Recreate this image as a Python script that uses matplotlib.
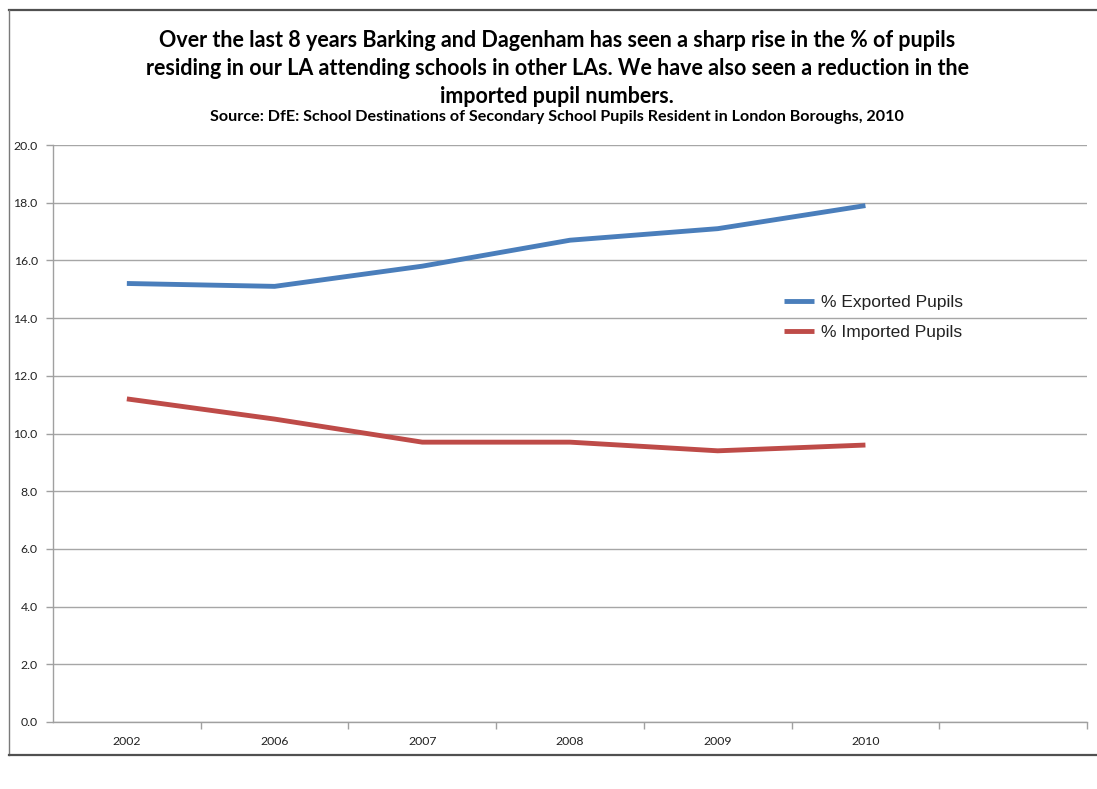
import matplotlib
matplotlib.use("Agg")
import matplotlib.pyplot as plt
from matplotlib.lines import Line2D

years = ["2002", "2006", "2007", "2008", "2009", "2010"]
exported = [15.2, 15.1, 15.8, 16.7, 17.1, 17.9]
imported = [11.2, 10.5, 9.7, 9.7, 9.4, 9.6]
y_ticks = [0.0, 2.0, 4.0, 6.0, 8.0, 10.0, 12.0, 14.0, 16.0, 18.0, 20.0]

title = ("Over the last 8 years Barking and Dagenham has seen a sharp rise in the % of pupils\n"
         "residing in our LA attending schools in other LAs. We have also seen a reduction in the\n"
         "imported pupil numbers.")
subtitle = "Source: DfE: School Destinations of Secondary School Pupils Resident in London Boroughs, 2010"

W, H = 1097, 789
fig = plt.figure(figsize=(W / 100, H / 100), dpi=100)
fig.patch.set_facecolor("white")

# outer frame (open on the right side)
frame_col = "#505050"
fig.add_artist(Line2D([9 / W, 1.0], [1 - 9.5 / H, 1 - 9.5 / H], color=frame_col, lw=1.6))
fig.add_artist(Line2D([9 / W, 9 / W], [1 - 9.5 / H, 1 - 755 / H], color="#7a7a7a", lw=1.0))
fig.add_artist(Line2D([9 / W, 1.0], [1 - 755 / H, 1 - 755 / H], color=frame_col, lw=1.6))

left, right, top, bottom = 53, 1087, 145, 722
ax = fig.add_axes([left / W, 1 - bottom / H, (right - left) / W, (bottom - top) / H])

n_slots = len(years) + 1
x = list(range(len(years)))
ax.plot(x, exported, color="#4a7ebb", lw=3.5, solid_capstyle="butt", label="% Exported Pupils")
ax.plot(x, imported, color="#be4b48", lw=3.5, solid_capstyle="butt", label="% Imported Pupils")

ax.set_xlim(-0.5, n_slots - 0.5)
ax.set_ylim(0, 20)
ax.set_yticks(y_ticks)
ax.set_yticklabels([f"{v:.1f}" for v in y_ticks])
ax.set_xticks(x)
ax.set_xticklabels(years)
ax.set_xticks([i + 0.5 for i in range(n_slots)], minor=True)
ax.tick_params(axis="x", which="major", length=0, pad=10)
ax.tick_params(axis="x", which="minor", length=5, color="#a0a0a0", width=1)
ax.tick_params(axis="y", length=5, color="#a0a0a0", width=1, pad=6)
for lab in ax.get_xticklabels() + ax.get_yticklabels():
    lab.set_fontfamily(["Lato", "DejaVu Sans"])
    lab.set_fontsize(8.8)
    lab.set_color("#222222")

ax.grid(axis="y", color="#a6a6a6", lw=1)
ax.set_axisbelow(True)
for side in ["top", "right"]:
    ax.spines[side].set_visible(False)
ax.spines["left"].set_color("#a0a0a0")
ax.spines["bottom"].set_color("#a0a0a0")
ax.spines["left"].set_linewidth(1)
ax.spines["bottom"].set_linewidth(1)

leg = ax.legend(loc="upper left", bbox_to_anchor=(731 / (right - left), 1 - 150 / (bottom - top)),
                frameon=False, prop={"family": ["Liberation Sans", "DejaVu Sans"], "size": 12.5},
                handlelength=1.7, handletextpad=0.45, labelspacing=0.85, borderpad=0, borderaxespad=0)
for t in leg.get_texts():
    t.set_color("#222222")

cx = 557 / W
fig.text(cx, 1 - 30 / H, title, ha="center", va="top",
         fontsize=15.5, fontweight="bold", family=["Lato", "DejaVu Sans"], linespacing=1.42)
fig.text(cx, 1 - 117 / H, subtitle, ha="center", va="center",
         fontsize=11.6, fontweight="bold", family=["Lato", "DejaVu Sans"])

fig.savefig("out.png", dpi=100, facecolor="white")
